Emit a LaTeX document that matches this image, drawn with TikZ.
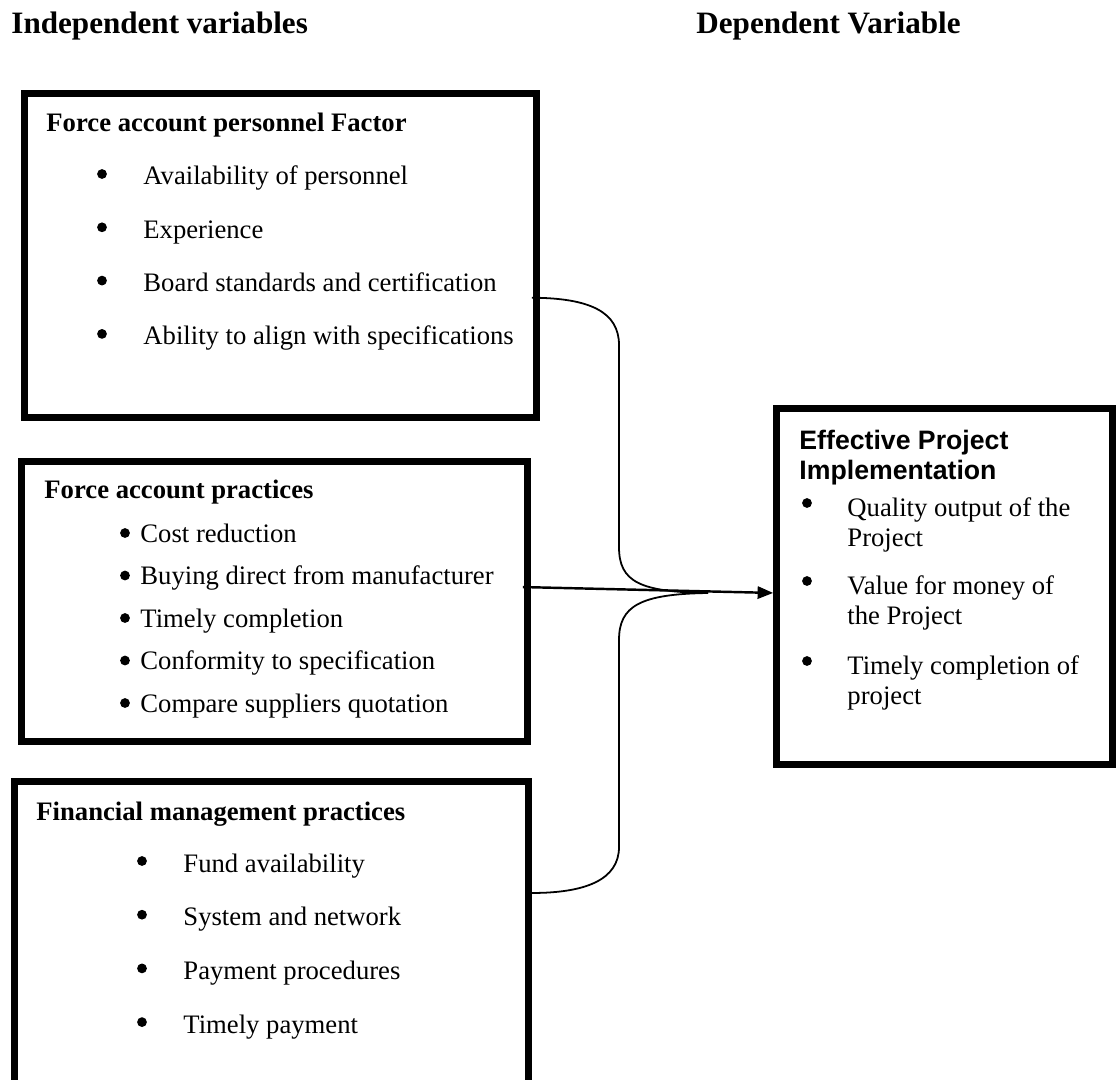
\documentclass[tikz,border=0pt]{standalone}
\usepackage{fontspec}
\setmainfont{Liberation Serif}
\newfontfamily\headsans{Liberation Sans}
\usetikzlibrary{arrows.meta}

\begin{document}
\begin{tikzpicture}[x=0.45pt,y=-0.45pt,
  box/.style={draw,line width=3pt,inner sep=0pt},
  title/.style={anchor=base west,inner sep=0pt,font=\fontsize{14}{17}\selectfont\bfseries},
  head/.style={anchor=base west,inner sep=0pt,font=\fontsize{12}{14}\selectfont\bfseries},
  item/.style={anchor=base west,inner sep=0pt,font=\fontsize{12}{13.5}\selectfont},
  itemml/.style={anchor=north west,inner sep=0pt,align=left,font=\fontsize{12}{13.5}\selectfont},
  dot/.style={circle,fill,inner sep=0pt,minimum size=4.4pt},
  brace/.style={line width=0.8pt},
  link/.style={->,>={Triangle[length=7pt,width=5.5pt]},line width=1.1pt}]
\useasboundingbox (0,0) rectangle (1116,1080);
\clip (0,0) rectangle (1116,1080);

% column titles
\node[title] (indep) at (11,34) {Independent variables};
\node[title] (dep) at (696,34) {Dependent Variable};

% boxes
\node[box,minimum width=230.4pt,minimum height=145.8pt] (personnel) at (280.5,255.5) {};
\node[box,minimum width=227.7pt,minimum height=126pt] (practices) at (274.5,601.5) {};
\node[box,minimum width=231.3pt,minimum height=143.3pt] (finance) at (271.5,940.75) {};
\node[box,minimum width=151.2pt,minimum height=160.2pt] (impl) at (944.5,586.5) {};

% force account personnel
\node[head] (pershead) at (46,132) {Force account personnel Factor};
\foreach \t [count=\i] in {Availability of personnel,Experience,Board standards and certification,Ability to align with specifications}
{
  \node[item] (pers\i) at (143,{185+53.3*(\i-1)}) {\t};
  \node[dot] (persdot\i) at (102,{174+53.3*(\i-1)}) {};
}

% force account practices
\node[head] (prachead) at (44,498) {Force account practices};
\foreach \t [count=\i] in {Cost reduction,Buying direct from manufacturer,Timely completion,Conformity to specification,Compare suppliers quotation}
{
  \node[item] (prac\i) at (140,{542+42.5*(\i-1)}) {\t};
  \node[dot] (pracdot\i) at (125,{533+42.5*(\i-1)}) {};
}

% financial management
\node[head] (finhead) at (36,820) {Financial management practices};
\foreach \t [count=\i] in {Fund availability,System and network,Payment procedures,Timely payment}
{
  \node[item] (fin\i) at (183,{872+53.7*(\i-1)}) {\t};
  \node[dot] (findot\i) at (142,{861+53.7*(\i-1)}) {};
}

% dependent variable
\node[itemml,font=\headsans\fontsize{12}{13.5}\selectfont\bfseries] (implhead) at (799,430) {Effective Project\\Implementation};
\node[itemml] (impl1) at (847,497) {Quality output of the\\Project};
\node[itemml] (impl2) at (847,575) {Value for money of\\the Project};
\node[itemml] (impl3) at (847,655) {Timely completion of\\project};
\node[dot] (impldot1) at (807,503) {};
\node[dot] (impldot2) at (807,581) {};
\node[dot] (impldot3) at (807,661) {};

% connectors
\coordinate (join) at (708,593);
\draw[brace] ([xshift=-3.6pt,yshift=-19pt]personnel.east) .. controls (590,298) and (619,312) .. (619,345)
  -- (619,547) .. controls (619,582) and (640,592) .. (join);
\draw[brace] ([yshift=21.5pt]finance.east) .. controls (585,893) and (619,880) .. (619,847)
  -- (619,640) .. controls (619,606) and (640,594) .. (join);
\draw[link] ([xshift=-3.6pt,yshift=6.5pt]practices.east) -- ([yshift=-2.9pt]impl.west);
\end{tikzpicture}
\end{document}
